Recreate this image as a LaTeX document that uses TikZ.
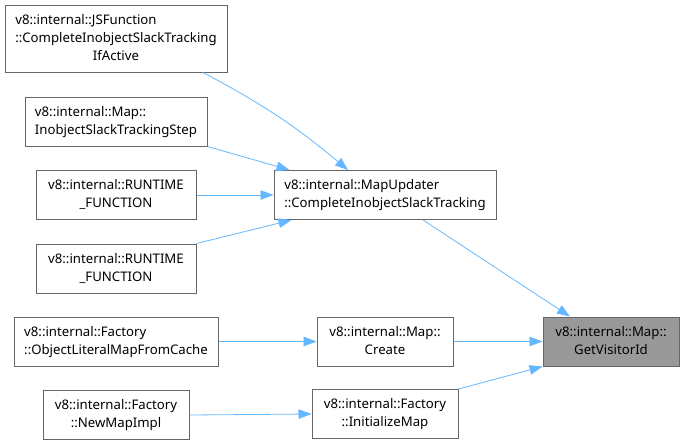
\documentclass[tikz,border=0pt]{standalone}
\usepackage{fontspec}
\setmainfont{Noto Sans}
\usepackage{xcolor}
\usetikzlibrary{arrows.meta}

\definecolor{edgeblue}{HTML}{63B8FF}
\newcommand{\fnname}[2]{\begin{tabular}{@{}l@{}}#1\\\multicolumn{1}{@{}c@{}}{#2}\end{tabular}}

\begin{document}
\begin{tikzpicture}[x=1pt,y=-1pt,>={Triangle[length=13pt,width=9.5pt]},
  fn/.style={draw=black!60,line width=1pt,fill=white,inner sep=0pt,
    minimum height=49pt,font=\fontsize{13.2}{18}\selectfont},
  call/.style={->,draw=edgeblue,line width=0.8pt}]
  \useasboundingbox (0,0) rectangle (685,445);
  \node[fn,minimum width=222pt,minimum height=67pt] (jsf) at (116,38.5)
    {\fnname{v8::internal::JSFunction\\::CompleteInobjectSlackTracking}{IfActive}};
  \node[fn,minimum width=182pt] (step) at (116,121.5)
    {\fnname{v8::internal::Map::}{InobjectSlackTrackingStep}};
  \node[fn,minimum width=160pt] (rtA) at (116,195)
    {\fnname{v8::internal::RUNTIME}{\_FUNCTION}};
  \node[fn,minimum width=160pt] (rtB) at (116,268.5)
    {\fnname{v8::internal::RUNTIME}{\_FUNCTION}};
  \node[fn,minimum width=222pt] (upd) at (385,195)
    {\fnname{v8::internal::MapUpdater}{::CompleteInobjectSlackTracking}};
  \node[fn,minimum width=204pt] (olm) at (116,341.5)
    {\fnname{v8::internal::Factory}{::ObjectLiteralMapFromCache}};
  \node[fn,minimum width=136pt] (create) at (385,341.5)
    {\fnname{v8::internal::Map::}{Create}};
  \node[fn,minimum width=136pt,fill=black!40] (visit) at (611,341.5)
    {\fnname{v8::internal::Map::}{GetVisitorId}};
  \node[fn,minimum width=146pt] (newmap) at (116,415)
    {\fnname{v8::internal::Factory}{::NewMapImpl}};
  \node[fn,minimum width=146pt] (init) at (385,414)
    {\fnname{v8::internal::Factory}{::InitializeMap}};

  \draw[call] ([xshift=87pt]jsf.south) to[bend left=6] ([xshift=-37pt]upd.north);
  \draw[call] (step.south east) -- ([xshift=16pt]upd.north west);
  \draw[call] (rtA.east) -- (upd.west);
  \draw[call] (rtB.north east) -- ([xshift=18pt]upd.south west);
  \draw[call] ([xshift=38pt]upd.south) -- ([xshift=-41pt]visit.north);
  \draw[call] (olm.east) -- (create.west);
  \draw[call] (create.east) -- (visit.west);
  \draw[call] (newmap.east) -- (init.west);
  \draw[call] (init.north east) -- (visit.south west);
\end{tikzpicture}
\end{document}
